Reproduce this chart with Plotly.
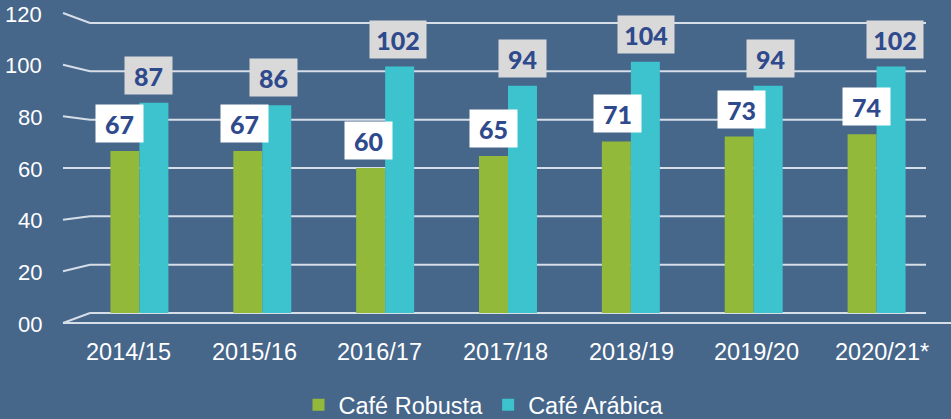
import plotly.graph_objects as go

categories = ["2014/15", "2015/16", "2016/17", "2017/18", "2018/19", "2019/20", "2020/21*"]
robusta = [67, 67, 60, 65, 71, 73, 74]
arabica = [87, 86, 102, 94, 104, 94, 102]
y_ticks = [0, 20, 40, 60, 80, 100, 120]
y_tick_labels = ["00", "20", "40", "60", "80", "100", "120"]

BG = "#46668A"
GRID = "#D6DEE8"
GREEN = "#93B93A"
CYAN = "#3DC3CE"
LABEL = "#2F4A8C"

W, H = 951, 419
ML, MR, MT, MB = 78, 13, 23, 106
PW = W - ML - MR
PH = H - MT - MB
YMAX = 120
BARGAP = 0.528


def px_x(p):
    return (p - ML) / PW


def py(v, off_px=0):
    # paper y for data value v, shifted by off_px pixels downward
    return v / YMAX - off_px / PH


fig = go.Figure()
fig.add_trace(go.Bar(name="Café Robusta", x=categories, y=robusta,
                     marker=dict(color=GREEN, line=dict(width=0))))
fig.add_trace(go.Bar(name="Café Arábica", x=categories, y=arabica,
                     marker=dict(color=CYAN, line=dict(width=0))))

shapes = []
annotations = []
for v, lab in zip(y_ticks, y_tick_labels):
    off = -10 + 20 * (YMAX - v) / YMAX  # pixel offset of front edge (positive = down)
    shapes.append(dict(type="line", xref="paper", yref="paper", x0=px_x(63), x1=px_x(90),
                       y0=py(v, off), y1=py(v), line=dict(color=GRID, width=2), layer="below"))
    shapes.append(dict(type="line", xref="paper", yref="paper", x0=px_x(90), x1=px_x(926),
                       y0=py(v), y1=py(v), line=dict(color=GRID, width=2), layer="below"))
    annotations.append(dict(text=lab, xref="paper", yref="paper", x=px_x(44), y=py(v, off + 1),
                            xanchor="right", yanchor="middle", showarrow=False,
                            font=dict(family="Liberation Sans, Arial", size=22, color="white")))
# floor front edge
shapes.append(dict(type="line", xref="paper", yref="paper", x0=px_x(63), x1=px_x(951),
                   y0=py(0, 10), y1=py(0, 10), line=dict(color=GRID, width=2), layer="below"))

bw = (1 - BARGAP) / 2
n = len(categories)
for i, cat in enumerate(categories):
    # category labels (perspective: spread slightly wider than the bars)
    annotations.append(dict(text=cat, x=i, xref="x", yref="paper", y=py(0, 39),
                            xanchor="center", yanchor="middle", showarrow=False,
                            xshift=-11 + 2.8 * i,
                            font=dict(family="Liberation Sans, Arial", size=23.5, color="white")))
    xs = -5 + 1.5 * i
    for val, dx, bg in ((robusta[i], -bw / 2, "white"), (arabica[i], bw / 2, "#D9D9D9")):
        t = str(val)
        annotations.append(dict(text=t, x=i + dx, y=val, xref="x", yref="y",
                                xanchor="center", yanchor="bottom", showarrow=False,
                                xshift=xs, yshift=8, bgcolor=bg, borderpad=4,
                                width=39 if len(t) < 3 else 48, height=29,
                                font=dict(family="Lato", size=25, color=LABEL, weight=900)))

fig.update_layout(
    width=W, height=H,
    margin=dict(l=ML, r=MR, t=MT, b=MB, autoexpand=False),
    paper_bgcolor=BG, plot_bgcolor=BG,
    barmode="group", bargap=BARGAP, bargroupgap=0,
    shapes=shapes, annotations=annotations,
    showlegend=True,
    legend=dict(orientation="h", x=px_x(484), y=-(405 - 313) / PH, xanchor="center",
                yanchor="middle", font=dict(family="Liberation Sans, Arial", size=23.5, color="white"),
                bgcolor="rgba(0,0,0,0)", itemwidth=30, tracegroupgap=0),
    xaxis=dict(showgrid=False, zeroline=False, showline=False, ticks="",
               showticklabels=False, fixedrange=True),
    yaxis=dict(range=[0, YMAX], showgrid=False, zeroline=False, showline=False,
               showticklabels=False, ticks="", fixedrange=True),
)

fig.write_html("out.html", config={"displayModeBar": False},
               post_script="document.body.style.margin='0';document.body.style.background='%s';" % BG)
